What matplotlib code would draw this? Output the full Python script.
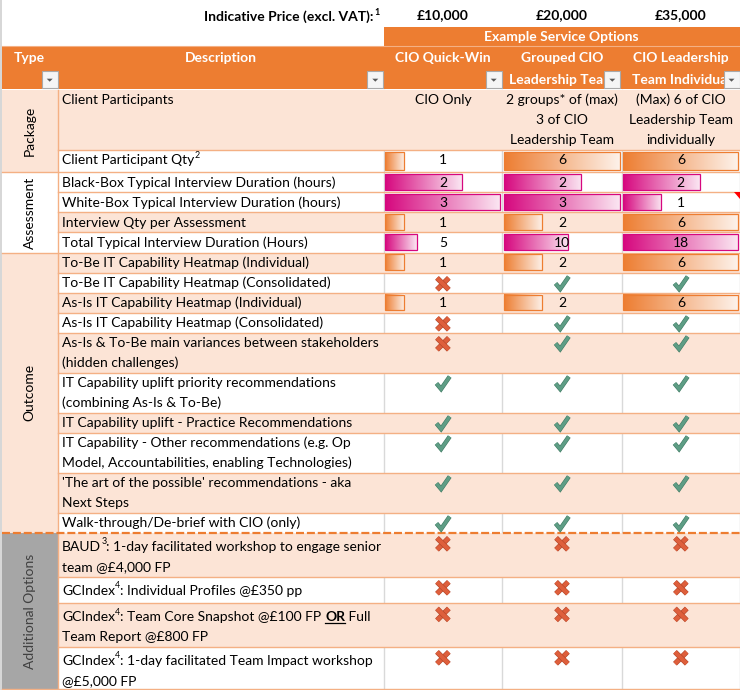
import re
import numpy as np
import matplotlib
matplotlib.use('Agg')
import matplotlib.pyplot as plt
import matplotlib.patches as mpatches
import matplotlib.patheffects as pe
from matplotlib.colors import LinearSegmentedColormap, to_rgb

plt.rcParams['font.family'] = ['Lato', 'DejaVu Sans']

# ---- data -------------------------------------------------------------
prices = ['£10,000', '£20,000', '£35,000']
option_names = [['CIO Quick-Win', ''],
                ['Grouped CIO', 'Leadership Team'],
                ['CIO Leadership', 'Team Individual']]
group_names = ['Package', 'Assessment', 'Outcome', 'Additional Options']
group_sizes = [2, 4, 10, 4]

descriptions = [
    'Client Participants',
    'Client Participant Qty^2',
    'Black-Box Typical Interview Duration (hours)',
    'White-Box Typical Interview Duration (hours)',
    'Interview Qty per Assessment',
    'Total Typical Interview Duration (Hours)',
    'To-Be IT Capability Heatmap (Individual)',
    'To-Be IT Capability Heatmap (Consolidated)',
    'As-Is IT Capability Heatmap (Individual)',
    'As-Is IT Capability Heatmap (Consolidated)',
    'As-Is & To-Be main variances between stakeholders\n(hidden challenges)',
    'IT Capability uplift priority recommendations\n(combining As-Is & To-Be)',
    'IT Capability uplift - Practice Recommendations',
    'IT Capability - Other recommendations (e.g. Op\nModel, Accountabilities, enabling Technologies)',
    "'The art of the possible' recommendations - aka\nNext Steps",
    'Walk-through/De-brief with CIO (only)',
    'BAUD^3: 1-day facilitated workshop to engage senior\nteam @£4,000 FP',
    'GCIndex^4: Individual Profiles @£350 pp',
    'GCIndex^4: Team Core Snapshot @£100 FP [OR] Full\nTeam Report @£800 FP',
    'GCIndex^4: 1-day facilitated Team Impact workshop\n@£5,000 FP',
]

participants = ['CIO Only',
                '2 groups* of (max)\n3 of CIO\nLeadership Team',
                '(Max) 6 of CIO\nLeadership Team\nindividually']
participant_qty = [1, 6, 6]
blackbox_hours = [2, 2, 2]
whitebox_hours = [3, 3, 1]
interview_qty = [1, 2, 6]
total_hours = [5, 10, 18]
tobe_individual = [1, 2, 6]
asis_individual = [1, 2, 6]

# 1 = included (tick), 0 = not included (cross)
tobe_consolidated = [0, 1, 1]
asis_consolidated = [0, 1, 1]
variances = [0, 1, 1]
priority_recs = [1, 1, 1]
practice_recs = [1, 1, 1]
other_recs = [1, 1, 1]
art_of_possible = [1, 1, 1]
walkthrough = [1, 1, 1]
baud_workshop = [0, 0, 0]
gc_profiles = [0, 0, 0]
gc_team_report = [0, 0, 0]
gc_impact = [0, 0, 0]

hours_max = max(max(blackbox_hours), max(whitebox_hours))
ORANGE = '#ED7D31'
MAGENTA = '#D6077E'

# (kind, values, bar colour, bar scale max)
cells = [
    ('text', participants, None, None),
    ('bar', participant_qty, ORANGE, max(participant_qty)),
    ('bar', blackbox_hours, MAGENTA, hours_max),
    ('bar', whitebox_hours, MAGENTA, hours_max),
    ('bar', interview_qty, ORANGE, max(interview_qty)),
    ('bar', total_hours, MAGENTA, max(total_hours)),
    ('bar', tobe_individual, ORANGE, max(tobe_individual)),
    ('icon', tobe_consolidated, None, None),
    ('bar', asis_individual, ORANGE, max(asis_individual)),
    ('icon', asis_consolidated, None, None),
    ('icon', variances, None, None),
    ('icon', priority_recs, None, None),
    ('icon', practice_recs, None, None),
    ('icon', other_recs, None, None),
    ('icon', art_of_possible, None, None),
    ('icon', walkthrough, None, None),
    ('icon', baud_workshop, None, None),
    ('icon', gc_profiles, None, None),
    ('icon', gc_team_report, None, None),
    ('icon', gc_impact, None, None),
]

# ---- layout -----------------------------------------------------------
row_heights = [60.5, 22.3, 20, 20, 20, 20.2, 20.2, 20, 20, 20, 40, 40, 20, 40, 40, 20,
               44, 26.6, 43.4, 42.6]
row_peach = [1, 0, 0, 0, 1, 0, 1, 0, 1, 0, 1, 0, 1, 0, 1, 0, 1, 0, 1, 0]
top0 = 89.5
type_x1 = 58.3
desc_x1 = 383.5
col_left = [383.5, 502.3, 621.7]
col_right = [502.3, 621.7, 740]

PEACH = '#FCE4D6'
LINE = '#F4B084'
GRID = '#D9D9D9'
GREY = '#A6A6A6'
CHECK, CHECK_EDGE = '#5E9D85', '#3F7A62'
CROSS, CROSS_EDGE = '#DE5F3C', '#B04529'
FS = 10.0

fig = plt.figure(figsize=(7.4, 6.9), dpi=100)
ax = fig.add_axes([0, 0, 1, 1])
ax.axis('off')
ax.set_xlim(0, 740)
ax.set_ylim(690, 0)
renderer = fig.canvas.get_renderer()


def text_width(s, **kw):
    t = ax.text(0, 0, s + '|', **kw)
    w1 = t.get_window_extent(renderer).width
    t.remove()
    t = ax.text(0, 0, '|', **kw)
    w2 = t.get_window_extent(renderer).width
    t.remove()
    return w1 - w2


def draw_runs(x, y, line, size=FS, color='black', weight='normal'):
    for tok in re.split(r'(\^\d|\[[^\]]+\])', line):
        if not tok:
            continue
        if tok.startswith('^'):
            kw = dict(fontsize=size * 0.64, color=color, weight=weight)
            ax.text(x + 0.3, y - 4.8, tok[1:], ha='left', va='center', zorder=7, **kw)
            x += text_width(tok[1:], **kw) + 0.3
        elif tok.startswith('['):
            kw = dict(fontsize=size, color=color, weight='bold')
            s = tok[1:-1]
            ax.text(x, y, s, ha='left', va='center', zorder=7, **kw)
            w = text_width(s, **kw)
            ax.plot([x, x + w], [y + 6.0, y + 6.0], color=color, lw=0.9, zorder=7)
            x += w
        else:
            kw = dict(fontsize=size, color=color, weight=weight)
            ax.text(x, y, tok, ha='left', va='center', zorder=7, **kw)
            x += text_width(tok, **kw)


def draw_check(cx, cy):
    ax.plot([cx - 6.4, cx - 1.8, cx + 6.8], [cy + 0.3, cy + 5.8, cy - 6.6],
            color=CHECK, lw=2.4, solid_joinstyle='miter', solid_capstyle='butt', zorder=6,
            path_effects=[pe.Stroke(linewidth=3.2, foreground=CHECK_EDGE), pe.Normal()])


def draw_cross(cx, cy):
    for d in (-1, 1):
        ax.plot([cx - 5.9 * d, cx + 5.9 * d], [cy - 5.9, cy + 5.9],
                color=CROSS, lw=3.0, solid_capstyle='butt', zorder=6,
                path_effects=[pe.Stroke(linewidth=3.8, foreground=CROSS_EDGE), pe.Normal()])


def draw_bar(x0, y0, x1, y1, color):
    light = tuple(0.9 + 0.1 * c for c in to_rgb(color))
    cmap = LinearSegmentedColormap.from_list('bar', [color, light])
    grad = np.linspace(0, 1, 256).reshape(1, -1)
    ax.imshow(grad, cmap=cmap, extent=(x0, x1, y1, y0), aspect='auto',
              interpolation='bilinear', zorder=4)
    ax.add_patch(mpatches.Rectangle((x0, y0), x1 - x0, y1 - y0, fill=False,
                                    edgecolor=color, lw=0.9, zorder=5))


def draw_button(x0, y0):
    ax.add_patch(mpatches.Rectangle((x0, y0), 16, 16.6, facecolor='#F5F5F5',
                                    edgecolor='#A9A9A9', lw=0.8, zorder=8))
    ax.add_patch(mpatches.Polygon([(x0 + 5, y0 + 7.5), (x0 + 11, y0 + 7.5), (x0 + 8, y0 + 10.5)],
                                  closed=True, facecolor='#595959', edgecolor='none', zorder=9))


# ---- top price line and header ---------------------------------------
lbl = 'Indicative Price (excl. VAT):'
ax.text(373, 17, lbl, ha='right', va='center', fontsize=FS, weight='bold')
ax.text(374, 12.3, '1', ha='left', va='center', fontsize=FS * 0.64, weight='bold')
for i, p in enumerate(prices):
    ax.text((col_left[i] + col_right[i]) / 2, 15.5, p, ha='center', va='center',
            fontsize=FS, weight='bold')

ax.add_patch(mpatches.Rectangle((col_left[0], 27), 740 - col_left[0], 19.2,
                                facecolor=ORANGE, edgecolor='none'))
ax.text((col_left[0] + 740) / 2, 37, 'Example Service Options', ha='center', va='center',
        fontsize=FS, weight='bold', color='white')
ax.add_patch(mpatches.Rectangle((1.5, 46.3), 740, top0 - 46.3, facecolor=ORANGE,
                                edgecolor='none'))
ax.plot([1.5, 740], [46.3, 46.3], color=LINE, lw=0.8)

ax.text(29, 57.5, 'Type', ha='center', va='center', fontsize=FS, weight='bold', color='white')
ax.text(221, 57.5, 'Description', ha='center', va='center', fontsize=FS, weight='bold',
        color='white')
for i, (l1, l2) in enumerate(option_names):
    cx = (col_left[i] + col_right[i]) / 2
    ax.text(cx, 57.5, l1, ha='center', va='center', fontsize=FS, weight='bold', color='white')
    if l2:
        t = ax.text(cx, 80, l2, ha='center', va='center', fontsize=FS, weight='bold',
                    color='white')
        clip = mpatches.Rectangle((col_left[i], 46), col_right[i] - col_left[i], 44,
                                  transform=ax.transData)
        t.set_clip_path(clip)
for bx in [41.7, 367.3, 485.7, 604.3, 723.5]:
    draw_button(bx, 71.2)

# ---- body -------------------------------------------------------------
tops = top0 + np.concatenate([[0], np.cumsum(row_heights)])
bottom = tops[-1]

# light grid lines of the sheet (hidden under filled cells)
for x in col_left + [740]:
    ax.plot([x, x], [top0, bottom], color=GRID, lw=1.0, zorder=1)
ax.plot([0.8, 0.8], [0, 690], color='#D0D0D0', lw=1.2, zorder=1)

for r, h in enumerate(row_heights):
    y0 = tops[r]
    if row_peach[r]:
        ax.add_patch(mpatches.Rectangle((type_x1, y0), 740 - type_x1, h, facecolor=PEACH,
                                        edgecolor='none', zorder=2))
    pad = 14 if r >= 16 else 10.5
    for k, line in enumerate(descriptions[r].split('\n')):
        draw_runs(62, y0 + pad + 20 * k, line)

    kind, vals, color, vmax = cells[r]
    for c in range(3):
        cx = (col_left[c] + col_right[c]) / 2
        cy = y0 + 10.5
        if kind == 'text':
            for k, line in enumerate(vals[c].split('\n')):
                ax.text(cx, cy + 20 * k, line, ha='center', va='center', fontsize=FS, zorder=7)
        elif kind == 'bar':
            full = col_right[c] - col_left[c] - 3.8
            x0 = col_left[c] + 1.6
            draw_bar(x0, y0 + 1.8, x0 + full * vals[c] / vmax, y0 + h - 2.6, color)
            ax.text(cx, cy, str(vals[c]), ha='center', va='center', fontsize=FS, zorder=7)
        else:
            if vals[c]:
                draw_check(cx, cy)
            else:
                draw_cross(cx, cy + 0.6)

# comment marker
ax.add_patch(mpatches.Polygon([(733.5, tops[3]), (740, tops[3]), (740, tops[3] + 6.5)],
                              closed=True, facecolor='#FF0000', edgecolor='none', zorder=8))

# type column groups
type_fill = [PEACH, 'white', PEACH, GREY]
type_color = ['black', 'black', 'black', '#404040']
g_edges = [0]
for s in group_sizes:
    g_edges.append(g_edges[-1] + s)
for g, name in enumerate(group_names):
    gy0, gy1 = tops[g_edges[g]], tops[g_edges[g + 1]]
    ax.add_patch(mpatches.Rectangle((1.5, gy0), type_x1 - 1.5, gy1 - gy0,
                                    facecolor=type_fill[g], edgecolor='none', zorder=2))
    ax.text(29.5, (gy0 + gy1) / 2, name, rotation=90, ha='center', va='center',
            fontsize=FS, color=type_color[g], zorder=7)

# orange row borders
for r in range(1, len(row_heights) + 1):
    y = tops[r]
    if r == g_edges[3]:
        continue
    x_start = 1.5 if r in g_edges else type_x1
    ax.plot([x_start, 740], [y, y], color=LINE, lw=1.0, zorder=3)
ax.plot([type_x1, type_x1], [top0, bottom], color=LINE, lw=1.0, zorder=3)
ax.plot([1.5, 740], [tops[g_edges[3]]] * 2, color=ORANGE, lw=1.6,
        linestyle=(0, (3.6, 1.3)), zorder=3)

ax.set_xlim(0, 740)
ax.set_ylim(690, 0)
fig.savefig('out.png', dpi=100)
